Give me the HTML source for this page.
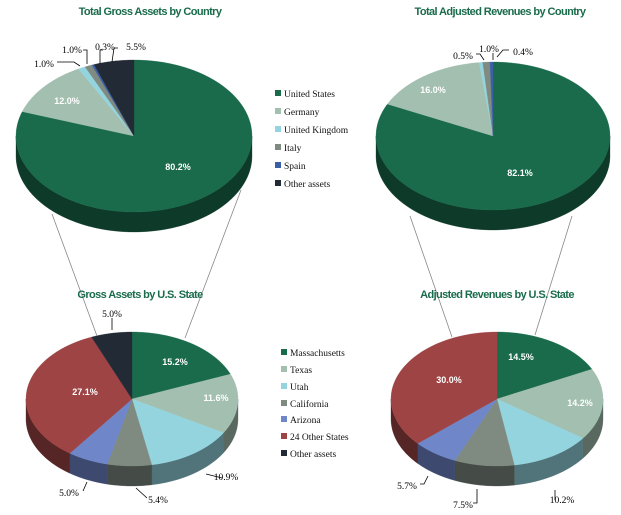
<!DOCTYPE html>
<html><head><meta charset="utf-8"><style>
html,body{margin:0;padding:0;background:#fff;width:621px;height:515px;overflow:hidden}
svg{display:block}
.t{font-family:"Liberation Sans",sans-serif;font-weight:bold;font-size:11px;fill:#1a6b4c;letter-spacing:-0.6px}
.w{font-family:"Liberation Sans",sans-serif;font-weight:bold;font-size:9px;fill:#fff}
.b{font-family:"Liberation Serif",serif;font-size:9.5px;fill:#000}
.lg{font-family:"Liberation Serif",serif;font-size:9.5px;fill:#111}
</style></head><body>
<svg id="s" width="621" height="515" viewBox="0 0 621 515" xmlns="http://www.w3.org/2000/svg">
<g id="pies"></g>
<g stroke="#888" stroke-width="0.8" fill="none">
<line x1="52" y1="214" x2="97" y2="336"/><line x1="241" y1="190" x2="185" y2="338"/>
<line x1="410" y1="216" x2="452" y2="337"/><line x1="572" y1="216" x2="535" y2="335"/>
</g>
<g stroke="#000" stroke-width="0.8" fill="none">
<path d="M57,62 H74 L80,66"/><path d="M83,50 H87 V64"/><path d="M103,50 H100 V64"/><path d="M118,48 H114 L112,62"/>
<path d="M476,54 H480 L484,60"/><path d="M493,53 V60"/><path d="M509,50 H503 L497,57"/>
<path d="M112,318 V330"/><path d="M206,474 L222,478"/><path d="M83,491 L87,482"/><path d="M136,488 L147,498"/>
<path d="M420,484 H424 L428,476"/><path d="M473,503 H477 V489"/><path d="M555,490 V500"/>
</g>
<text class="t" x="150" y="15" text-anchor="middle">Total Gross Assets by Country</text>
<text class="t" x="500" y="15" text-anchor="middle">Total Adjusted Revenues by Country</text>
<text class="t" x="140" y="298" text-anchor="middle">Gross Assets by U.S. State</text>
<text class="t" x="497" y="298" text-anchor="middle">Adjusted Revenues by U.S. State</text>

<text class="w" x="178" y="170" text-anchor="middle">80.2%</text>
<text class="w" x="67" y="104" text-anchor="middle">12.0%</text>
<text class="b" x="44" y="67" text-anchor="middle">1.0%</text>
<text class="b" x="72" y="53" text-anchor="middle">1.0%</text>
<text class="b" x="105" y="50" text-anchor="middle">0.3%</text>
<text class="b" x="136" y="50" text-anchor="middle">5.5%</text>

<text class="w" x="520" y="176" text-anchor="middle">82.1%</text>
<text class="w" x="433" y="93" text-anchor="middle">16.0%</text>
<text class="b" x="463" y="59" text-anchor="middle">0.5%</text>
<text class="b" x="489" y="52" text-anchor="middle">1.0%</text>
<text class="b" x="523" y="55" text-anchor="middle">0.4%</text>

<text class="b" x="112" y="317" text-anchor="middle">5.0%</text>
<text class="w" x="175" y="365" text-anchor="middle">15.2%</text>
<text class="w" x="216" y="401" text-anchor="middle">11.6%</text>
<text class="w" x="85" y="395" text-anchor="middle">27.1%</text>
<text class="b" x="226" y="480" text-anchor="middle">10.9%</text>
<text class="b" x="69" y="496" text-anchor="middle">5.0%</text>
<text class="b" x="158" y="503" text-anchor="middle">5.4%</text>

<text class="w" x="521" y="360" text-anchor="middle">14.5%</text>
<text class="w" x="449" y="383" text-anchor="middle">30.0%</text>
<text class="w" x="580" y="406" text-anchor="middle">14.2%</text>
<text class="b" x="407" y="489" text-anchor="middle">5.7%</text>
<text class="b" x="463" y="508" text-anchor="middle">7.5%</text>
<text class="b" x="562" y="503" text-anchor="middle">10.2%</text>

<g>
<rect x="275" y="90" width="6" height="6" fill="#1a6b4c"/><text class="lg" x="284" y="97">United States</text>
<rect x="275" y="108" width="6" height="6" fill="#a2bfb0"/><text class="lg" x="284" y="115">Germany</text>
<rect x="275" y="126" width="6" height="6" fill="#94d4de"/><text class="lg" x="284" y="133">United Kingdom</text>
<rect x="275" y="144" width="6" height="6" fill="#7f8a80"/><text class="lg" x="284" y="151">Italy</text>
<rect x="275" y="162" width="6" height="6" fill="#3a5ea8"/><text class="lg" x="284" y="169">Spain</text>
<rect x="275" y="180" width="6" height="6" fill="#222a36"/><text class="lg" x="284" y="187">Other assets</text>

<rect x="281" y="349" width="6" height="6" fill="#1a6b4c"/><text class="lg" x="290" y="356">Massachusetts</text>
<rect x="281" y="366" width="6" height="6" fill="#a2bfb0"/><text class="lg" x="290" y="373">Texas</text>
<rect x="281" y="383" width="6" height="6" fill="#94d4de"/><text class="lg" x="290" y="390">Utah</text>
<rect x="281" y="400" width="6" height="6" fill="#7f8a80"/><text class="lg" x="290" y="407">California</text>
<rect x="281" y="416" width="6" height="6" fill="#6f86c8"/><text class="lg" x="290" y="423">Arizona</text>
<rect x="281" y="433" width="6" height="6" fill="#9e4444"/><text class="lg" x="290" y="440">24 Other States</text>
<rect x="281" y="450" width="6" height="6" fill="#222a36"/><text class="lg" x="290" y="457">Other assets</text>
</g>
</svg>
<script>
(function(){
var g=document.getElementById('pies');var NS='http://www.w3.org/2000/svg';
function dark(h,f){var n=parseInt(h.slice(1),16);var r=(n>>16)*f|0,gg=((n>>8)&255)*f|0,b=(n&255)*f|0;return 'rgb('+r+','+gg+','+b+')';}
function pt(cx,cy,rx,ry,t,d){return [cx+rx*Math.cos(t),cy+ry*Math.sin(t)+(d||0)];}
function arc(cx,cy,rx,ry,a,b,d){var s='',n=Math.max(2,Math.ceil(Math.abs(b-a)/0.02));for(var i=0;i<=n;i++){var p=pt(cx,cy,rx,ry,a+(b-a)*i/n,d);s+=(i?'L':'')+p[0].toFixed(2)+','+p[1].toFixed(2);}return s;}
function add(d,f){var p=document.createElementNS(NS,'path');p.setAttribute('d',d);p.setAttribute('fill',f);p.setAttribute('stroke',f);p.setAttribute('stroke-width','0.3');g.appendChild(p);}
function pie(cx,cy,rx,ry,dep,vals,cols){
 var tot=vals.reduce(function(a,b){return a+b},0);var a=-Math.PI/2,segs=[];
 vals.forEach(function(v,i){var b=a+v/tot*2*Math.PI;if(v>0)segs.push([a,b,cols[i]]);a=b;});
 segs.forEach(function(s){
  for(var k=-1;k<=1;k++){var lo=Math.max(s[0],k*2*Math.PI),hi=Math.min(s[1],k*2*Math.PI+Math.PI);
   if(hi>lo){var d='M'+arc(cx,cy,rx,ry,lo,hi,0)+'L'+arc(cx,cy,rx,ry,hi,lo,dep)+'Z';
    add(d,dark(s[2],0.55));}}
 });
 segs.forEach(function(s){add('M'+cx+','+cy+'L'+arc(cx,cy,rx,ry,s[0],s[1],0)+'Z',s[2]);});
}
var C=['#1a6b4c','#a2bfb0','#94d4de','#7f8a80','#3a5ea8','#222a36'];
var S=['#1a6b4c','#a2bfb0','#94d4de','#7f8a80','#6f86c8','#9e4444','#222a36'];
pie(134,136,118,76,20,[80.2,12.0,1.0,1.0,0.3,5.5],C);
pie(493,136,117,74,20,[82.1,16.0,0.5,1.0,0.4,0],C);
pie(132,399,106,67,20,[15.2,11.6,10.9,5.4,5.0,27.1,5.0],S);
pie(497,399,106,67,20,[14.5,14.2,10.2,7.5,5.7,30.0],S.slice(0,6));
})();
</script>
</body></html>
